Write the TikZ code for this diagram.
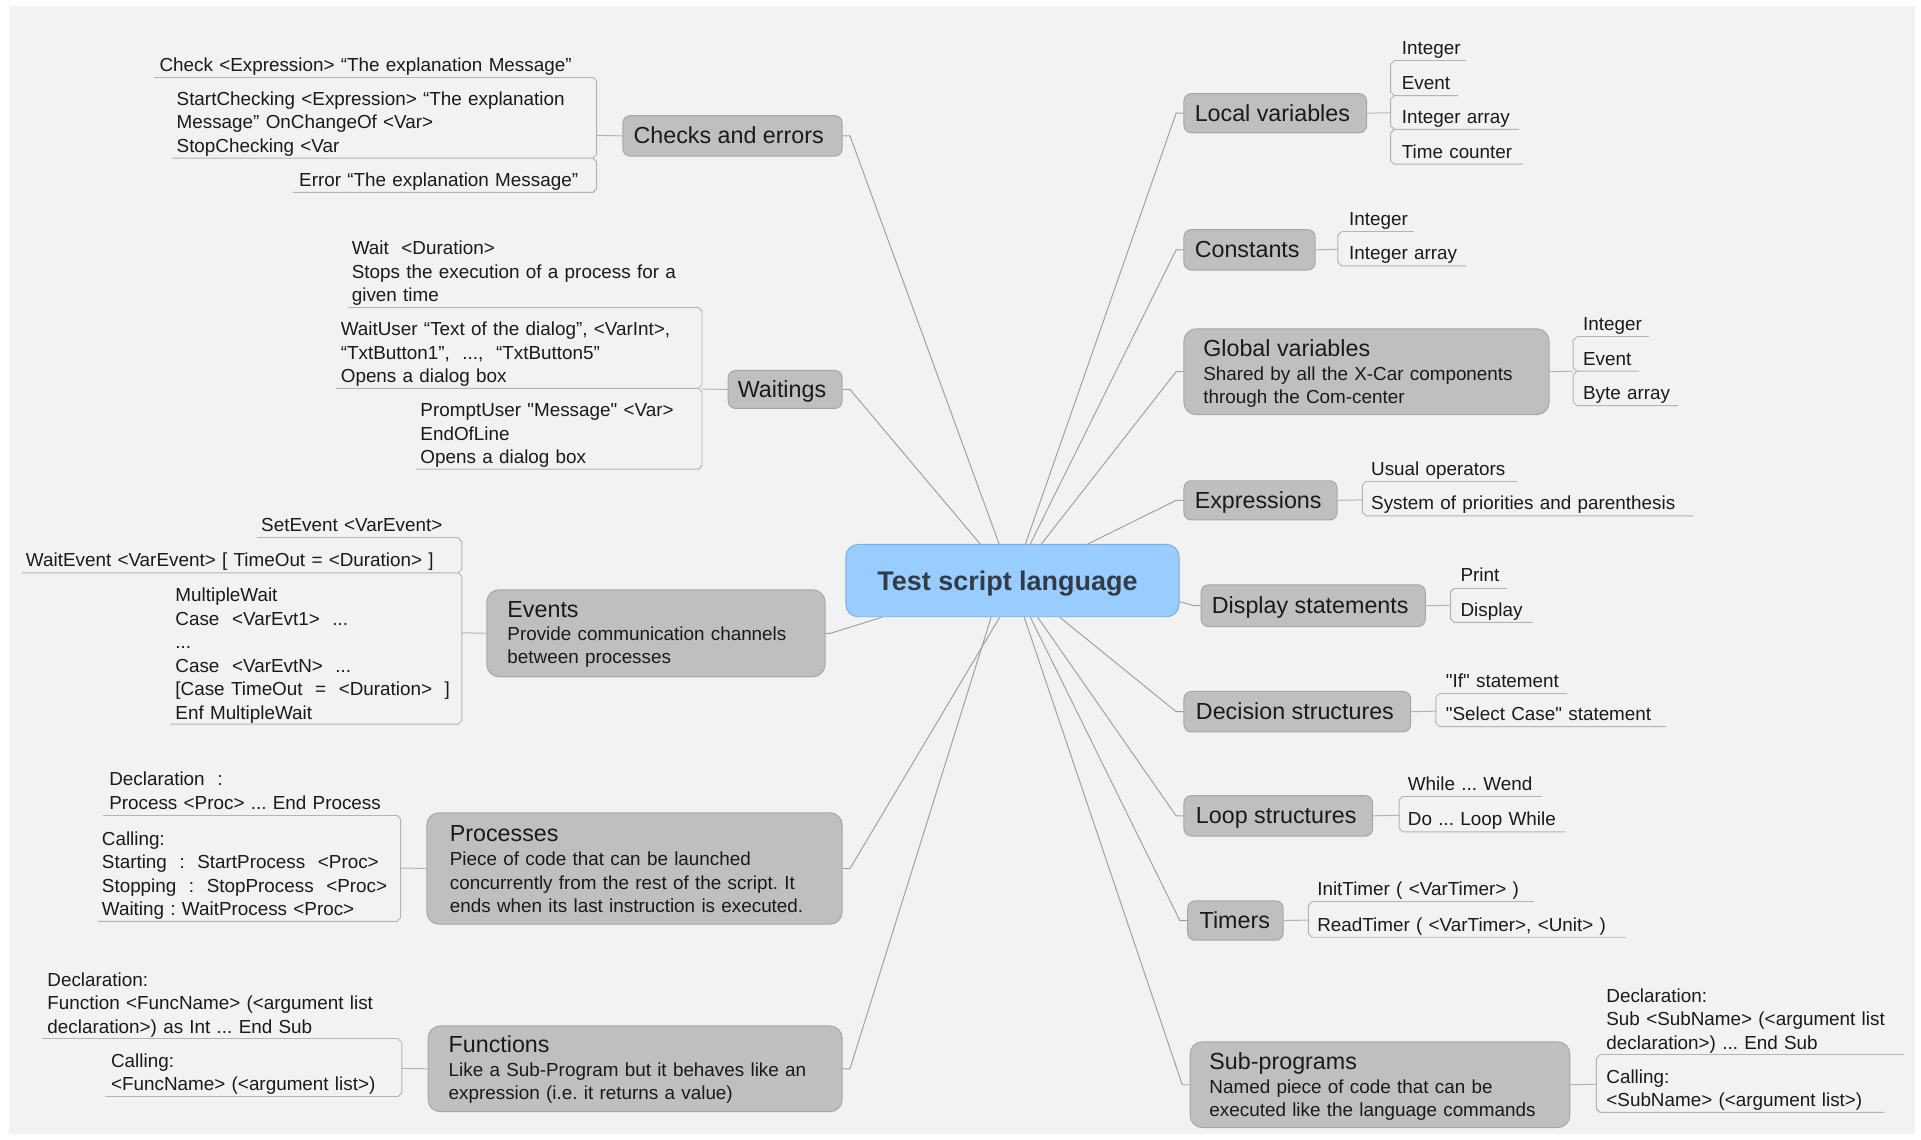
\documentclass[tikz,border=0pt]{standalone}
\usepackage{fontspec}
\setmainfont{Liberation Sans}[Ligatures=TeXOff]
\usetikzlibrary{calc}
\definecolor{bgc}{HTML}{F2F2F2}
\definecolor{boxfill}{HTML}{BFBFBF}
\definecolor{boxdraw}{HTML}{A6A6A6}
\definecolor{cfill}{HTML}{99CCFF}
\definecolor{cdraw}{HTML}{7FAEDD}
\definecolor{ctext}{HTML}{333B47}
\definecolor{txt}{HTML}{1A1A1A}
\definecolor{connc}{HTML}{A0A0A0}
\definecolor{leafc}{HTML}{B4B4B4}
% bracket helpers: right side (bracket at left of leaves) and left side
\newcommand\brA[3]{\draw[leafline] ({#1+3},{#2}) -- ({#3},{#2});}
\newcommand\brB[4]{\draw[leafline] ({#1+3},{#2}) -- ({#1},{#2+3}) -- ({#1},{#3-3}) -- ({#1+3},{#3}) -- ({#4},{#3});}
\newcommand\blA[3]{\draw[leafline] ({#1-3},{#2}) -- ({#3},{#2});}
\newcommand\blB[4]{\draw[leafline] ({#1-3},{#2}) -- ({#1},{#2+3}) -- ({#1},{#3-3}) -- ({#1-3},{#3}) -- ({#4},{#3});}
\frenchspacing
\begin{document}
\begin{tikzpicture}[x=1pt,y=-1pt,
  bbox/.style={draw=boxdraw, fill=boxfill, rounded corners=6pt, line width=0.8pt, anchor=north west, inner sep=0pt},
  bigbox/.style={bbox, rounded corners=10pt},
  cbox/.style={draw=cdraw, fill=cfill, rounded corners=10pt, line width=0.8pt, anchor=north west, inner sep=0pt},
  ctitle/.style={font=\fontsize{22}{26}\selectfont\bfseries, text=ctext, inner sep=0pt, anchor=base west},
  ttl/.style={font=\fontsize{19}{22}\selectfont, text=txt, inner sep=0pt, anchor=base west},
  lf/.style={font=\fontsize{15.4}{19.2}\selectfont\frenchspacing, text=txt, inner sep=0pt, anchor=base west, text width=500pt, align=left},
  conn/.style={draw=connc, line width=0.8pt},
  leafline/.style={draw=leafc, line width=0.8pt},
]
\useasboundingbox (0,0) rectangle (1568,930);
\fill[white] (0,0) rectangle (1568,930);
\fill[bgc] (7,5) rectangle (1563,926);

% ---------- central node
\node[cbox, minimum width=272pt, minimum height=59pt] (c) at (690,444) {};
\node[ctitle] (ct) at (716,482) {Test script language};

% ---------- right branch boxes
\node[bbox, minimum width=149pt, minimum height=32pt] (lv) at (966,76) {};
\node[ttl] (lvt) at (975,99) {Local variables};
\node[bbox, minimum width=107pt, minimum height=33pt] (co) at (966,187) {};
\node[ttl] (cot) at (975,210.5) {Constants};
\node[bigbox, minimum width=298pt, minimum height=70pt] (gv) at (966,268) {};
\node[ttl] (gvt) at (982,291) {Global variables};
\node[lf] (gvd) at (982,310.5) {Shared by all the X-Car components\\through the Com-center};
\node[bbox, minimum width=125pt, minimum height=32pt] (ex) at (966,392) {};
\node[ttl] (ext) at (975,415) {Expressions};
\node[bbox, minimum width=183pt, minimum height=34pt] (ds) at (980,477) {};
\node[ttl] (dst) at (989,501) {Display statements};
\node[bbox, minimum width=185pt, minimum height=33pt] (dc) at (966,564) {};
\node[ttl] (dct) at (976,587.5) {Decision structures};
\node[bbox, minimum width=154pt, minimum height=33pt] (ls) at (966,649) {};
\node[ttl] (lst) at (976,672.5) {Loop structures};
\node[bbox, minimum width=78pt, minimum height=32pt] (ti) at (969,735) {};
\node[ttl] (tit) at (979,758) {Timers};
\node[bigbox, minimum width=310pt, minimum height=70pt] (sp) at (971,850) {};
\node[ttl] (spt) at (987,873) {Sub-programs};
\node[lf] (spd) at (987,892.5) {Named piece of code that can be\\executed like the language commands};

% ---------- left branch boxes
\node[bbox, minimum width=179pt, minimum height=33pt] (ce) at (508,94) {};
\node[ttl] (cet) at (517,117.5) {Checks and errors};
\node[bbox, minimum width=93pt, minimum height=31pt] (wa) at (594,302) {};
\node[ttl] (wat) at (602,324.5) {Waitings};
\node[bigbox, minimum width=276pt, minimum height=71pt] (ev) at (397,481) {};
\node[ttl] (evt) at (414,504) {Events};
\node[lf] (evd) at (414,522.5) {Provide communication channels\\between processes};
\node[bigbox, minimum width=339pt, minimum height=91pt] (pr) at (348,663) {};
\node[ttl] (prt) at (367,687) {Processes};
\node[lf] (prd) at (367,706.5) {Piece of code that can be launched\\concurrently from the rest of the script. It\\ends when its last instruction is executed.};
\node[bigbox, minimum width=338pt, minimum height=70pt] (fu) at (349,837) {};
\node[ttl] (fut) at (366,859) {Functions};
\node[lf] (fud) at (366,878.5) {Like a Sub-Program but it behaves like an\\expression (i.e. it returns a value)};

% ---------- main connectors
\coordinate (cLV) at ($(c.north west)+(147,0)$);
\coordinate (cCO) at ($(c.north west)+(151,0)$);
\coordinate (cGV) at ($(c.north west)+(160,0)$);
\coordinate (cEX) at ($(c.north west)+(198,0)$);
\coordinate (cCE) at ($(c.north west)+(125.5,0)$);
\coordinate (cWA) at ($(c.north west)+(110,0)$);
\coordinate (cDS) at ($(c.north east)+(0,47)$);
\coordinate (cDC) at ($(c.south west)+(175,0)$);
\coordinate (cLS) at ($(c.south west)+(157,0)$);
\coordinate (cTI) at ($(c.south west)+(151,0)$);
\coordinate (cSP) at ($(c.south west)+(146,0)$);
\coordinate (cPR) at ($(c.south west)+(126,0)$);
\coordinate (cFU) at ($(c.south west)+(119,0)$);
\coordinate (cEV) at ($(c.south west)+(30,0)$);

\draw[conn] (lv.west) -- ++(-6,0) -- (cLV);
\draw[conn] (co.west) -- ++(-6,0) -- (cCO);
\draw[conn] (gv.west) -- ++(-6,0) -- (cGV);
\draw[conn] (ex.west) -- ++(-6,0) -- (cEX);
\draw[conn] (ds.west) -- ++(-5,0) -- (cDS);
\draw[conn] (dc.west) -- ++(-6,0) -- (cDC);
\draw[conn] (ls.west) -- ++(-6,0) -- (cLS);
\draw[conn] (ti.west) -- ++(-6,0) -- (cTI);
\draw[conn] (sp.west) -- ++(-6,0) -- (cSP);
\draw[conn] (ce.east) -- ++(6,0) -- (cCE);
\draw[conn] (wa.east) -- ++(6,0) -- (cWA);
\draw[conn] (ev.east) -- ++(4,0) -- (cEV);
\draw[conn] (pr.east) -- ++(6,0) -- (cPR);
\draw[conn] (fu.east) -- ++(6,0) -- (cFU);

% ---------- right leaves
% Local variables
\draw[leafline] (lv.east) -- (1135,92);
\node[lf] (lv1) at (1144,44.6) {Integer};
\node[lf] (lv2) at (1144,73) {Event};
\node[lf] (lv3) at (1144,100.6) {Integer array};
\node[lf] (lv4) at (1144,129) {Time counter};
\brA{1135}{49.6}{1197}
\brB{1135}{49.6}{78}{1190}
\brB{1135}{78}{105.6}{1240}
\brB{1135}{105.6}{134}{1243}
% Constants
\draw[leafline] (co.east) -- (1092,203.5);
\node[lf] (co1) at (1101,184) {Integer};
\node[lf] (co2) at (1101,212) {Integer array};
\brA{1092}{189}{1154}
\brB{1092}{189}{217}{1197}
% Global variables
\draw[leafline] (gv.east) -- (1284,303);
\node[lf] (gv1) at (1292,270) {Integer};
\node[lf] (gv2) at (1292,298) {Event};
\node[lf] (gv3) at (1292,326) {Byte array};
\brA{1284}{275}{1346}
\brB{1284}{275}{303}{1338}
\brB{1284}{303}{331}{1370}
% Expressions
\draw[leafline] (ex.east) -- (1112,408);
\node[lf] (ex1) at (1119,388) {Usual operators};
\node[lf] (ex2) at (1119,416) {System of priorities and parenthesis};
\brA{1112}{393}{1238}
\brB{1112}{393}{421}{1382}
% Display statements
\draw[leafline] (ds.east) -- (1184,494);
\node[lf] (ds1) at (1192,475) {Print};
\node[lf] (ds2) at (1192,503) {Display};
\brA{1184}{480}{1230}
\brB{1184}{480}{508}{1251}
% Decision structures
\draw[leafline] (dc.east) -- (1172,580.5);
\node[lf] (dc1) at (1180,561) {"If" statement};
\node[lf] (dc2) at (1180,588) {"Select Case" statement};
\brA{1172}{566}{1279}
\brB{1172}{566}{593}{1360}
% Loop structures
\draw[leafline] (ls.east) -- (1142,665.5);
\node[lf] (ls1) at (1149,645) {While ... Wend};
\node[lf] (ls2) at (1149,674) {Do ... Loop While};
\brA{1142}{650}{1259}
\brB{1142}{650}{679}{1278}
% Timers
\draw[leafline] (ti.east) -- (1068,751);
\node[lf] (ti1) at (1075,731) {InitTimer ( <VarTimer> )};
\node[lf] (ti2) at (1075,760) {ReadTimer ( <VarTimer>, <Unit> )};
\brA{1068}{736}{1252}
\brB{1068}{736}{765}{1327}
% Sub-programs
\draw[leafline] (sp.east) -- (1303,885);
\node[lf] (sp1) at (1311,818) {Declaration:\\Sub <SubName> (<argument list\\declaration>) ... End Sub};
\node[lf] (sp2) at (1311,884) {Calling:\\<SubName> (<argument list>)};
\brA{1303}{861}{1554}
\brB{1303}{861}{908}{1538}

% ---------- left leaves
% Checks and errors
\draw[leafline] (ce.west) -- (487,110.5);
\node[lf] (ce1) at (130,58) {Check <Expression> “The explanation Message”};
\node[lf] (ce2) at (144,86) {StartChecking <Expression> “The explanation\\Message”\ OnChangeOf\ <Var>\\StopChecking <Var};
\node[lf] (ce3) at (244,152) {Error “The explanation Message”};
\blA{487}{63}{126}
\blB{487}{63}{129}{140}
\blB{487}{129}{157}{239}
% Waitings
\draw[leafline] (wa.west) -- (573,317.5);
\node[lf] (wa1) at (287,208) {Wait\ \ <Duration>\\Stops the execution of a process for a\\given time};
\node[lf] (wa2) at (278,274) {WaitUser “Text of the dialog”, <VarInt>,\\“TxtButton1”,\ \ ...,\ \ “TxtButton5”\\Opens a dialog box};
\node[lf] (wa3) at (343,340) {PromptUser "Message" <Var>\\EndOfLine\\Opens a dialog box};
\blA{573}{251}{284}
\blB{573}{251}{317}{274}
\blB{573}{317}{383}{340}
% Events
\draw[leafline] (ev.west) -- (377,516.5);
\node[lf] (ev1) at (213,434) {SetEvent <VarEvent>};
\node[lf] (ev2) at (21,462.5) {WaitEvent <VarEvent> [ TimeOut = <Duration> ]};
\node[lf] (ev3) at (143,491) {MultipleWait\\Case\ \ <VarEvt1>\ \ ...\\...\\Case\ \ <VarEvtN>\ \ ...\\{}[Case TimeOut\ \ =\ \ <Duration>\ \ ]\\Enf MultipleWait};
\blA{377}{439}{210}
\blB{377}{439}{467.5}{18}
\blB{377}{467.5}{591}{139}
% Processes
\draw[leafline] (pr.west) -- (327,708.5);
\node[lf] (pr1) at (89,641.5) {Declaration\ \ :\\Process <Proc> ... End Process};
\node[lf] (pr2) at (83,690) {Calling:\\Starting\ \ :\ \ StartProcess\ \ <Proc>\\Stopping\ \ :\ \ StopProcess\ \ <Proc>\\Waiting : WaitProcess <Proc>};
\blA{327}{665.5}{84}
\blB{327}{665.5}{752}{80}
% Functions
\draw[leafline] (fu.west) -- (328,872);
\node[lf] (fu1) at (38.5,805) {Declaration:\\Function <FuncName> (<argument list\\declaration>) as Int ... End Sub};
\node[lf] (fu2) at (90.5,871) {Calling:\\<FuncName> (<argument list>)};
\blA{328}{848}{34}
\blB{328}{848}{895}{86}
\end{tikzpicture}
\end{document}
